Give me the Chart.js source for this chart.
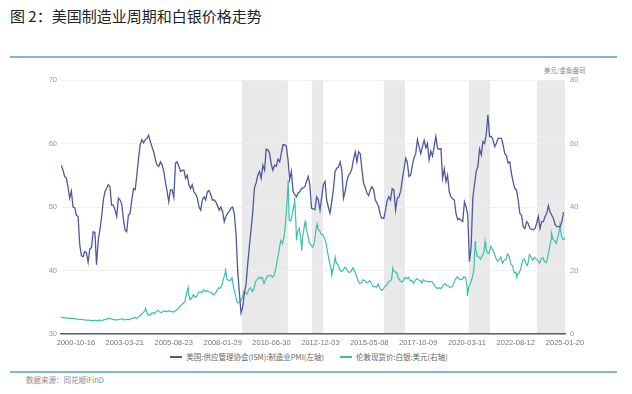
<!DOCTYPE html>
<html>
<head>
<meta charset="utf-8">
<script src="https://cdn.jsdelivr.net/npm/chart.js@4.4.0/dist/chart.umd.min.js"></script>
<style>
  body { margin: 0; width: 632px; height: 394px; background: #fff; position: relative; overflow: hidden;
         font-family: "Noto Sans CJK SC", "Liberation Sans", sans-serif; }
  #title { position: absolute; left: 10px; top: 5px; font-size: 15px; color: #222; white-space: nowrap; }
  .rule { position: absolute; left: 10px; width: 607px; height: 2px; background: #7db5de; }
  #unit { position: absolute; left: 544px; top: 65px; font-size: 6.5px; color: #888; white-space: nowrap; }
  #src { position: absolute; left: 26px; top: 374px; font-size: 7.5px; color: #8a8a8a; white-space: nowrap; }
  #wrap { position: absolute; left: 0; top: 60px; width: 632px; height: 291px; }
  #legend { position: absolute; left: 0; width: 618px; top: 351px; display: flex; justify-content: center;
            font-size: 7.5px; color: #666; line-height: 12px; white-space: nowrap; }
  #legend span.item { display: inline-flex; align-items: center; margin: 0 8px; }
  #legend i { display: inline-block; width: 12px; height: 2px; margin-right: 4px; }
</style>
</head>
<body>
<div id="title">图 2：美国制造业周期和白银价格走势</div>
<div class="rule" style="top:56px"></div>
<div id="unit">美元/金衡盎司</div>
<div id="wrap"><canvas id="chart"></canvas></div>
<div id="legend"></div>
<div class="rule" style="top:371px"></div>
<div id="src">数据来源：同花顺iFinD</div>

<script>
// ---- data ----
const pmiLabel = "美国:供应管理协会(ISM):制造业PMI(左轴)";
const silverLabel = "伦敦现货价:白银:美元(右轴)";
const pmiColor = "#4c5a9c";
const silverColor = "#3ebfae";

// ISM PMI, monthly from 2000-01 to 2024-12
const pmiStartYear = 2000;
const pmiValues = [
  56.6, 55.8, 54.8, 54.6, 53.2, 51.4, 52.5, 50.0, 49.9, 48.7, 48.5, 44.0,
  42.3, 42.2, 43.0, 42.8, 41.3, 43.4, 43.6, 46.1, 46.0, 40.9, 44.8, 46.4,
  48.5, 51.1, 52.4, 52.9, 53.5, 53.2, 50.3, 50.3, 49.5, 48.5, 51.4, 51.1,
  50.5, 48.0, 46.4, 46.1, 48.7, 49.0, 51.0, 52.9, 52.7, 55.0, 57.7, 59.8,
  60.6, 60.1, 60.6, 60.8, 61.3, 60.3, 59.5, 58.7, 57.5, 56.6, 56.4, 57.1,
  56.6, 55.6, 54.0, 52.5, 50.8, 52.7, 52.7, 51.5, 56.9, 57.1, 56.4, 55.6,
  55.8, 55.8, 54.5, 55.0, 53.5, 52.9, 53.5, 52.4, 52.0, 51.4, 50.0, 49.5,
  51.1, 51.6, 51.1, 52.4, 52.6, 52.0, 51.1, 51.1, 50.8, 50.2, 49.5, 50.0,
  49.3, 47.7, 48.5, 49.0, 49.3, 49.8, 50.0, 49.0, 45.8, 40.0, 36.5, 33.3,
  34.3, 36.5, 37.8, 41.0, 43.8, 46.5, 49.2, 53.0, 53.8, 55.0, 55.6, 54.5,
  56.6, 55.8, 59.1, 59.0, 58.5, 56.8, 55.8, 56.6, 56.4, 57.5, 57.1, 58.5,
  59.8, 59.8, 59.6, 57.5, 54.3, 55.6, 52.5, 51.9, 51.6, 52.2, 52.4, 52.9,
  53.0, 53.2, 54.0, 54.8, 53.5, 49.8, 49.7, 49.6, 51.6, 51.1, 49.5, 51.5,
  53.5, 54.0, 51.1, 50.0, 49.0, 50.8, 52.7, 55.6, 56.1, 56.3, 57.1, 55.8,
  51.4, 52.5, 54.0, 55.0, 55.3, 56.0, 57.5, 58.7, 57.1, 58.7, 58.4, 55.8,
  53.7, 53.0, 52.2, 51.8, 52.7, 53.2, 52.7, 51.1, 50.6, 50.0, 48.7, 48.2,
  48.2, 49.5, 51.0, 51.6, 51.1, 52.9, 52.7, 49.5, 51.4, 51.6, 52.5, 54.3,
  56.0, 57.7, 57.1, 54.8, 55.0, 56.5, 57.7, 58.4, 60.6, 59.5, 58.4, 59.5,
  60.5, 59.3, 60.0, 57.4, 58.8, 58.0, 59.5, 61.1, 59.2, 59.1, 59.2, 54.5,
  56.0, 54.0, 55.0, 52.4, 51.6, 51.3, 51.1, 49.0, 48.0, 48.2, 47.9, 47.7,
  50.8, 50.0, 48.7, 41.4, 43.7, 51.5, 53.5, 55.6, 56.4, 59.1, 58.2, 60.3,
  60.0, 61.6, 64.5, 61.1, 61.1, 60.6, 59.5, 60.0, 60.8, 60.8, 60.8, 59.8,
  58.4, 58.1, 56.9, 57.1, 55.3, 54.0, 52.9, 52.7, 51.1, 49.0, 48.7, 46.9,
  46.6, 47.7, 47.4, 46.6, 46.5, 46.4, 46.6, 47.4, 48.5, 46.6, 47.7, 47.7,
  48.5, 49.0, 50.2, 49.2, 48.7, 48.2, 47.2, 46.9, 46.9, 46.9, 47.7, 49.2
];

// London silver spot, USD/oz, mid-month readings from 2000-01 to 2024-12
const silverStartYear = 2000;
const silverMonthly = [
  5.3, 5.25, 5.05, 5.05, 5.0, 5.0, 4.95, 4.9, 4.85, 4.75, 4.65, 4.6,
  4.65, 4.55, 4.4, 4.35, 4.4, 4.35, 4.25, 4.2, 4.3, 4.3, 4.15, 4.45,
  4.25, 4.35, 4.5, 4.6, 4.8, 4.9, 4.8, 4.55, 4.6, 4.4, 4.5, 4.7,
  4.8, 4.6, 4.45, 4.5, 4.7, 4.5, 4.9, 5.0, 5.2, 4.9, 5.2, 5.6,
  6.3, 6.6, 7.4, 7.3, 6.0, 5.9, 6.5, 6.7, 6.4, 7.2, 7.5, 6.9,
  6.7, 7.2, 7.3, 7.0, 7.2, 7.3, 7.1, 6.9, 7.2, 7.6, 7.9, 8.7,
  9.3, 9.7, 10.4, 12.8, 13.5, 10.8, 11.3, 12.4, 11.6, 11.9, 13.0, 13.3,
  13.0, 14.0, 13.3, 13.7, 13.3, 13.2, 12.9, 12.3, 12.8, 13.7, 14.6, 14.4,
  15.5, 17.6, 19.3, 17.2, 16.9, 16.8, 17.7, 14.3, 12.3, 9.9, 9.8, 10.4,
  11.4, 13.4, 12.9, 12.6, 14.1, 14.6, 13.4, 14.2, 16.5, 17.2, 17.9, 17.5,
  17.8, 15.9, 17.1, 18.2, 18.4, 18.5, 17.9, 18.4, 20.6, 23.4, 26.6, 29.4,
  28.4, 30.8, 35.8, 43.5, 35.8, 35.6, 37.9, 41.0, 35.0, 32.1, 33.3, 29.8,
  30.5, 34.0, 33.5, 31.4, 28.7, 28.0, 27.4, 28.7, 33.3, 33.2, 32.6, 31.5,
  31.2, 30.2, 28.5, 25.4, 22.5, 20.5, 19.7, 22.9, 22.3, 21.9, 20.5, 19.7,
  19.9, 21.0, 20.7, 19.7, 19.3, 19.9, 20.9, 19.7, 18.4, 16.8, 15.9, 16.1,
  17.1, 16.8, 16.2, 16.3, 16.8, 16.0, 14.9, 14.9, 14.7, 15.7, 14.5, 14.0,
  14.1, 15.0, 15.4, 16.3, 16.7, 17.2, 20.1, 19.6, 19.3, 17.6, 16.8, 16.3,
  16.9, 17.9, 17.4, 17.9, 16.8, 16.9, 16.0, 16.9, 17.4, 17.0, 16.9, 16.0,
  17.1, 16.6, 16.5, 16.6, 16.5, 16.5, 15.7, 14.9, 14.3, 14.6, 14.3, 14.7,
  15.6, 15.8, 15.2, 15.0, 14.6, 15.0, 15.9, 17.3, 18.0, 17.5, 17.1, 17.1,
  18.0, 17.8, 14.5, 15.0, 16.1, 17.7, 20.5, 27.0, 24.4, 24.2, 23.6, 24.8,
  25.9, 27.0, 25.6, 25.3, 27.6, 26.7, 25.6, 24.0, 22.9, 23.4, 24.2, 22.3,
  23.3, 23.4, 25.2, 24.4, 21.9, 21.5, 19.2, 19.4, 18.9, 19.2, 21.0, 23.3,
  23.6, 22.1, 21.6, 25.0, 24.2, 23.2, 24.1, 23.6, 23.2, 22.3, 23.6, 24.0,
  22.8, 22.5, 24.3, 27.4, 29.9, 29.9, 29.4, 28.5, 30.6, 33.0, 31.0, 29.8
];
// spikes and last days that the monthly readings miss
const silverExtraDates = [
  "2004-04-02", "2006-05-11", "2008-03-17", "2011-04-28", "2011-08-22", "2011-09-26",
  "2011-12-29", "2012-02-28", "2012-10-04", "2013-06-27", "2013-08-28", "2015-12-14",
  "2016-07-06", "2020-03-18", "2020-08-06", "2021-02-01", "2022-09-01", "2024-05-20",
  "2024-10-22", "2025-01-10", "2025-01-20"
];
const silverExtraValues = [
  8.1, 14.6, 20.7, 48.5, 43.0, 29.5,
  26.2, 35.3, 34.6, 18.6, 24.2, 13.7,
  20.7, 12.0, 29.2, 29.0, 17.8, 31.8,
  34.4, 30.0, 30.5
];

// shaded periods
const bandStarts = ["2009-01-12", "2012-07-01", "2016-01-26", "2020-04-17", "2023-08-29"];
const bandEnds   = ["2011-04-22", "2013-01-19", "2017-02-10", "2021-05-01", "2025-01-20"];

const xTickDates = ["2000-10-16", "2003-03-21", "2005-08-23", "2008-01-29", "2010-06-30",
  "2012-12-03", "2015-05-08", "2017-10-09", "2020-03-11", "2022-08-12", "2025-01-20"];
const xMinDate = "2000-01-20";
const xMaxDate = "2025-01-20";
const leftTicks = [30, 40, 50, 60, 70];
const rightTicks = [0, 20, 40, 60, 80];

// ---- build points ----
const t = s => Date.parse(s + "T00:00:00Z");
const pmiPoints = pmiValues.map((v, i) => ({
  x: Date.UTC(pmiStartYear + Math.floor(i / 12), i % 12, 25), y: v
}));
const silverPoints = silverMonthly.map((v, i) => ({
  x: Date.UTC(silverStartYear + Math.floor(i / 12), i % 12, 15), y: v
}));
silverExtraDates.forEach((d, i) => silverPoints.push({ x: t(d), y: silverExtraValues[i] }));
silverPoints.sort((a, b) => a.x - b.x);

const fmt = ms => {
  const d = new Date(ms);
  const p = n => String(n).padStart(2, "0");
  return d.getUTCFullYear() + "-" + p(d.getUTCMonth() + 1) + "-" + p(d.getUTCDate());
};

// legend as html text
const legendEl = document.getElementById("legend");
[[pmiLabel, pmiColor], [silverLabel, silverColor]].forEach(([txt, col]) => {
  const item = document.createElement("span");
  item.className = "item";
  item.innerHTML = '<i style="background:' + col + '"></i>' + txt;
  legendEl.appendChild(item);
});

const bandsPlugin = {
  id: "bands",
  beforeDraw(chart) {
    const { ctx, chartArea, scales } = chart;
    ctx.save();
    ctx.fillStyle = "#e9e9e9";
    bandStarts.forEach((s, i) => {
      const x1 = Math.max(scales.x.getPixelForValue(t(s)), chartArea.left);
      const x2 = Math.min(scales.x.getPixelForValue(t(bandEnds[i])), chartArea.right);
      ctx.fillRect(x1, chartArea.top, x2 - x1, chartArea.bottom - chartArea.top);
    });
    ctx.restore();
  }
};

const tickFont = { family: "'Liberation Sans', 'Noto Sans CJK SC', sans-serif", size: 7.5 };

new Chart(document.getElementById("chart"), {
  type: "line",
  data: {
    datasets: [
      { label: pmiLabel, data: pmiPoints, yAxisID: "yL",
        borderColor: pmiColor, backgroundColor: pmiColor, borderWidth: 1.3,
        pointRadius: 0, tension: 0 },
      { label: silverLabel, data: silverPoints, yAxisID: "yR",
        borderColor: silverColor, backgroundColor: silverColor, borderWidth: 1.2,
        pointRadius: 0, tension: 0 }
    ]
  },
  options: {
    responsive: true,
    maintainAspectRatio: false,
    animation: false,
    layout: { padding: { top: 20, left: 0, right: 0, bottom: 0 } },
    plugins: { legend: { display: false }, tooltip: { enabled: false } },
    scales: {
      x: {
        type: "linear",
        min: t(xMinDate), max: t(xMaxDate),
        afterBuildTicks: s => { s.ticks = xTickDates.map(d => ({ value: t(d) })); },
        grid: { display: false, drawTicks: false },
        border: { display: true, color: "#5a5f80", width: 1.5 },
        ticks: { autoSkip: false, maxRotation: 0, padding: 4, color: "#777", font: tickFont,
                 callback: v => fmt(v) }
      },
      yL: {
        position: "left", min: 30, max: 70,
        afterBuildTicks: s => { s.ticks = leftTicks.map(v => ({ value: v })); },
        afterFit: s => { s.width = 61; },
        grid: { color: "#efefef", drawTicks: false },
        border: { display: false },
        ticks: { padding: 4, color: "#999", font: tickFont }
      },
      yR: {
        position: "right", min: 0, max: 80,
        afterBuildTicks: s => { s.ticks = rightTicks.map(v => ({ value: v })); },
        afterFit: s => { s.width = 67; },
        grid: { drawOnChartArea: false, drawTicks: false },
        border: { display: false },
        ticks: { padding: 5, color: "#999", font: tickFont }
      }
    }
  },
  plugins: [bandsPlugin]
});
</script>
</body>
</html>
